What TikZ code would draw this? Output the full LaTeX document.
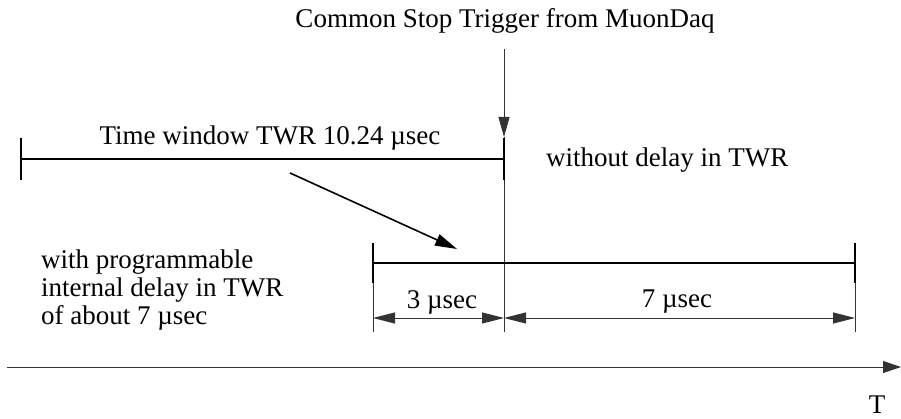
\documentclass[tikz,border=0pt]{standalone}
\usepackage{fontspec}
\setmainfont{Liberation Serif}
\usetikzlibrary{arrows.meta}
\begin{document}
\begin{tikzpicture}[x=1pt,y=-1pt,
  thin line/.style={draw=black!80, line width=1pt},
  bar/.style={draw=black, line width=2.2pt},
  tick/.style={draw=black, line width=2pt},
  tip/.style={-{Triangle[length=20pt,width=11pt]}},
  dim/.style={thin line,{Triangle[length=22pt,width=11pt]}-{Triangle[length=22pt,width=11pt]}},
  lbl/.style={font=\fontsize{27}{28}\selectfont, inner sep=0pt}]
\useasboundingbox (0,0) rectangle (901,419);
% text labels
\node[lbl] (top) at (505,21) {Common Stop Trigger from MuonDaq};
\node[lbl] (tw) at (270,138) {Time window TWR 10.24 µsec};
\node[lbl, anchor=west] (wo) at (546,160) {without delay in TWR};
\node[lbl, anchor=west, align=left] (wd) at (41,290) {with programmable\\internal delay in TWR\\of about 7 µsec};
\node[lbl] (three) at (442,302) {3 µsec};
\node[lbl] (seven) at (677,302) {7 µsec};
\node[lbl] (T) at (877,405) {T};
% coordinates
\coordinate (trigtop) at (504,49);
\coordinate (trigbot) at (504,332);
\coordinate (trigarr) at (504,137);
\coordinate (a1) at (21,159);
\coordinate (a2) at (504,159);
\coordinate (b1) at (373,263);
\coordinate (b2) at (855,263);
\coordinate (d1) at (373,318);
\coordinate (d2) at (504,318);
\coordinate (d3) at (855,318);
\coordinate (ax0) at (7,367);
\coordinate (ax1) at (901,367);
\coordinate (da) at (290,173);
\coordinate (db) at (457,249);
% trigger line
\draw[thin line] (trigarr) -- (trigbot);
\draw[thin line, tip] (trigtop) -- (trigarr);
% top bar
\draw[bar] (a1) -- (a2);
\draw[tick] (21,138) -- (21,180);
\draw[tick] (504,138) -- (504,180);
% lower bar
\draw[bar] (b1) -- (b2);
\draw[tick] (373,243) -- (373,283);
\draw[tick] (855,243) -- (855,283);
% extension lines
\draw[thin line] (373,283) -- (373,332);
\draw[thin line] (855,283) -- (855,332);
% dimensions
\draw[dim] (d1) -- (d2);
\draw[dim] (d2) -- (d3);
% diagonal arrow
\draw[draw=black, line width=1.6pt, -{Triangle[length=22pt,width=12pt]}] (da) -- (db);
% time axis
\draw[thin line, -{Triangle[length=18pt,width=12pt]}] (ax0) -- (ax1);
\end{tikzpicture}
\end{document}
